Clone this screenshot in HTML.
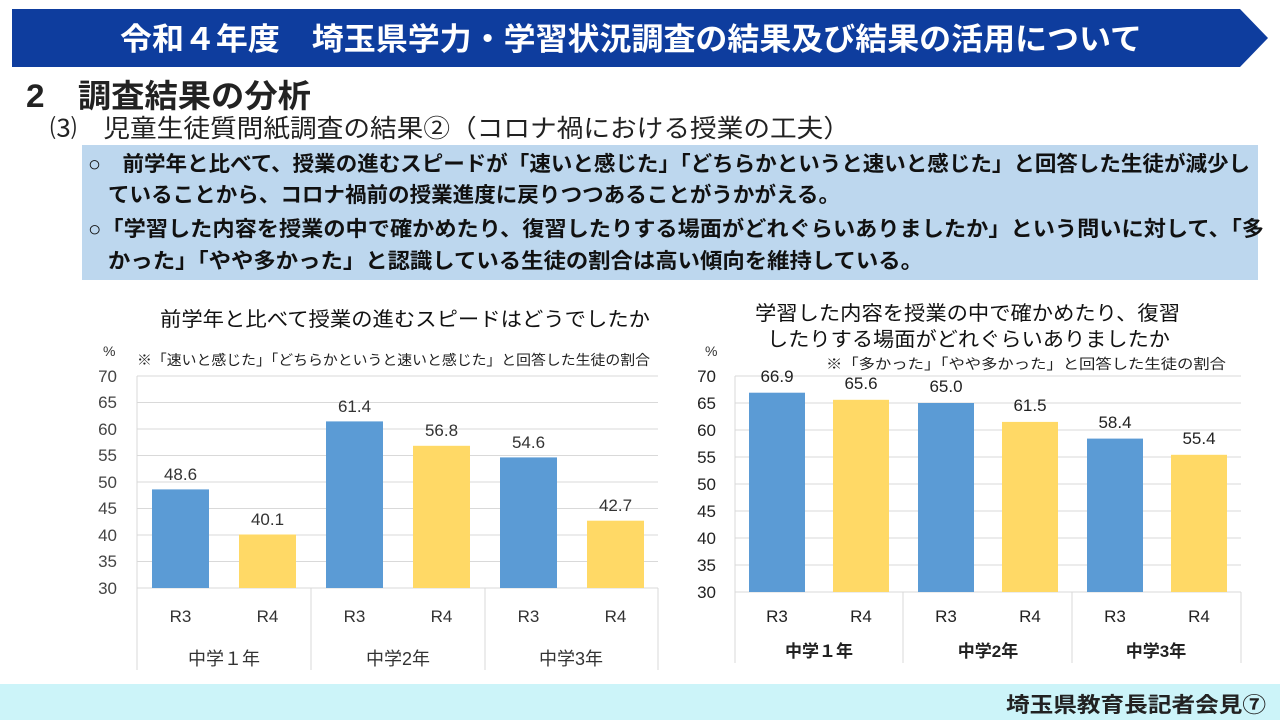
<!DOCTYPE html>
<html><head><meta charset="utf-8"><style>
body{margin:0;width:1280px;height:720px;overflow:hidden;background:#fff;font-family:"Liberation Sans","Noto Sans CJK JP",sans-serif;}
</style></head><body>
<svg width="1280" height="720" xmlns="http://www.w3.org/2000/svg" font-family="Liberation Sans, Noto Sans CJK JP, sans-serif">
<polygon points="12,9 1240,9 1268,38 1240,67 12,67" fill="#0e3d9e"/>
<text x="120" y="50" font-size="31" font-weight="bold" fill="#fff" textLength="1022" lengthAdjust="spacingAndGlyphs">令和４年度　埼玉県学力・学習状況調査の結果及び結果の活用について</text>
<text x="26" y="107" font-size="32" font-weight="bold" fill="#222" textLength="285" lengthAdjust="spacingAndGlyphs">2　調査結果の分析</text>
<text x="50" y="137" font-size="25" fill="#222" textLength="800" lengthAdjust="spacingAndGlyphs">⑶　児童生徒質問紙調査の結果②（コロナ禍における授業の工夫）</text>
<rect x="82" y="145" width="1176" height="135" fill="#bdd7ee"/>
<g font-size="21" font-weight="bold" fill="#111">
<text x="88" y="171" textLength="1162" lengthAdjust="spacingAndGlyphs">○　前学年と比べて、授業の進むスピードが「速いと感じた」「どちらかというと速いと感じた」と回答した生徒が減少し</text>
<text x="108" y="202" textLength="732" lengthAdjust="spacingAndGlyphs">ていることから、コロナ禍前の授業進度に戻りつつあることがうかがえる。</text>
<text x="88" y="236" textLength="1176" lengthAdjust="spacingAndGlyphs">○「学習した内容を授業の中で確かめたり、復習したりする場面がどれぐらいありましたか」という問いに対して、「多</text>
<text x="108" y="268" textLength="815" lengthAdjust="spacingAndGlyphs">かった」「やや多かった」と認識している生徒の割合は高い傾向を維持している。</text>
</g>
<!-- left chart -->
<text x="160" y="326" font-size="20" fill="#111" textLength="490" lengthAdjust="spacingAndGlyphs">前学年と比べて授業の進むスピードはどうでしたか</text>
<text x="103" y="356" font-size="14" fill="#333">%</text>
<text x="137" y="365" font-size="14" fill="#222" textLength="513" lengthAdjust="spacingAndGlyphs">※「速いと感じた」「どちらかというと速いと感じた」と回答した生徒の割合</text>
<g stroke="#d9d9d9" stroke-width="1">
<line x1="137" x2="658" y1="376" y2="376"/><line x1="137" x2="658" y1="402.5" y2="402.5"/><line x1="137" x2="658" y1="429" y2="429"/><line x1="137" x2="658" y1="455.5" y2="455.5"/><line x1="137" x2="658" y1="482" y2="482"/><line x1="137" x2="658" y1="508.5" y2="508.5"/><line x1="137" x2="658" y1="535" y2="535"/><line x1="137" x2="658" y1="561.5" y2="561.5"/><line x1="137" x2="658" y1="588" y2="588"/>
<line x1="137" x2="137" y1="376" y2="670"/><line x1="311" x2="311" y1="588" y2="670"/><line x1="485" x2="485" y1="588" y2="670"/><line x1="658" x2="658" y1="588" y2="670"/>
</g>
<g font-size="17" fill="#444" text-anchor="end">
<text x="117" y="382">70</text><text x="117" y="408">65</text><text x="117" y="435">60</text><text x="117" y="461">55</text><text x="117" y="488">50</text><text x="117" y="514">45</text><text x="117" y="541">40</text><text x="117" y="567">35</text><text x="117" y="594">30</text>
</g>
<g>
<rect x="152" y="489.4" width="57" height="98.6" fill="#5b9bd5"/>
<rect x="239" y="534.5" width="57" height="53.5" fill="#ffd966"/>
<rect x="326" y="421.4" width="57" height="166.6" fill="#5b9bd5"/>
<rect x="413" y="445.8" width="57" height="142.2" fill="#ffd966"/>
<rect x="500" y="457.4" width="57" height="130.6" fill="#5b9bd5"/>
<rect x="587" y="520.7" width="57" height="67.3" fill="#ffd966"/>
</g>
<g font-size="17" fill="#333" text-anchor="middle">
<text x="180.5" y="480">48.6</text><text x="267.5" y="525">40.1</text><text x="354.5" y="412">61.4</text><text x="441.5" y="436">56.8</text><text x="528.5" y="448">54.6</text><text x="615.5" y="511">42.7</text>
<text x="180.5" y="622">R3</text><text x="267.5" y="622">R4</text><text x="354.5" y="622">R3</text><text x="441.5" y="622">R4</text><text x="528.5" y="622">R3</text><text x="615.5" y="622">R4</text>
</g>
<g font-size="18" fill="#333" text-anchor="middle">
<text x="224" y="665">中学１年</text><text x="398" y="665">中学2年</text><text x="571" y="665">中学3年</text>
</g>
<!-- right chart -->
<text x="755" y="320" font-size="20" fill="#111" textLength="425" lengthAdjust="spacingAndGlyphs">学習した内容を授業の中で確かめたり、復習</text>
<text x="767" y="346" font-size="20" fill="#111" textLength="403" lengthAdjust="spacingAndGlyphs">したりする場面がどれぐらいありましたか</text>
<text x="705" y="356" font-size="14" fill="#333">%</text>
<text x="826" y="369" font-size="14" fill="#222" textLength="400" lengthAdjust="spacingAndGlyphs">※「多かった」「やや多かった」と回答した生徒の割合</text>
<g stroke="#d9d9d9" stroke-width="1">
<line x1="735" x2="1241" y1="376" y2="376"/><line x1="735" x2="1241" y1="403" y2="403"/><line x1="735" x2="1241" y1="430" y2="430"/><line x1="735" x2="1241" y1="457" y2="457"/><line x1="735" x2="1241" y1="484" y2="484"/><line x1="735" x2="1241" y1="511" y2="511"/><line x1="735" x2="1241" y1="538" y2="538"/><line x1="735" x2="1241" y1="565" y2="565"/><line x1="735" x2="1241" y1="592" y2="592"/>
<line x1="735" x2="735" y1="376" y2="663"/><line x1="903" x2="903" y1="592" y2="663"/><line x1="1072" x2="1072" y1="592" y2="663"/><line x1="1241" x2="1241" y1="592" y2="663"/>
</g>
<g font-size="17" fill="#222" text-anchor="end">
<text x="716" y="382">70</text><text x="716" y="409">65</text><text x="716" y="436">60</text><text x="716" y="463">55</text><text x="716" y="490">50</text><text x="716" y="517">45</text><text x="716" y="544">40</text><text x="716" y="571">35</text><text x="716" y="598">30</text>
</g>
<g>
<rect x="749" y="392.7" width="56" height="199.3" fill="#5b9bd5"/>
<rect x="833" y="399.8" width="56" height="192.2" fill="#ffd966"/>
<rect x="918" y="403" width="56" height="189" fill="#5b9bd5"/>
<rect x="1002" y="421.9" width="56" height="170.1" fill="#ffd966"/>
<rect x="1087" y="438.6" width="56" height="153.4" fill="#5b9bd5"/>
<rect x="1171" y="454.8" width="56" height="137.2" fill="#ffd966"/>
</g>
<g font-size="17" fill="#222" text-anchor="middle">
<text x="777" y="382">66.9</text><text x="861" y="389">65.6</text><text x="946" y="392">65.0</text><text x="1030" y="411">61.5</text><text x="1115" y="428">58.4</text><text x="1199" y="444">55.4</text>
<text x="777" y="622">R3</text><text x="861" y="622">R4</text><text x="946" y="622">R3</text><text x="1030" y="622">R4</text><text x="1115" y="622">R3</text><text x="1199" y="622">R4</text>
</g>
<g font-size="17" font-weight="bold" fill="#222" text-anchor="middle">
<text x="819" y="657">中学１年</text><text x="988" y="657">中学2年</text><text x="1156" y="657">中学3年</text>
</g>
<rect x="0" y="684" width="1280" height="36" fill="#ccf4f9"/>
<text x="1266" y="712" font-size="21" font-weight="bold" fill="#222" text-anchor="end" textLength="260" lengthAdjust="spacingAndGlyphs">埼玉県教育長記者会見⑦</text>
</svg>
</body></html>
